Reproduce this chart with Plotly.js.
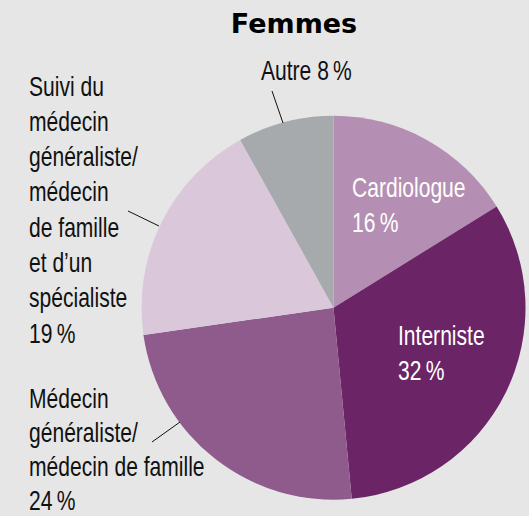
<!DOCTYPE html>
<html>
<head>
<meta charset="utf-8">
<script src="https://cdn.plot.ly/plotly-3.0.1.min.js"></script>
<style>
  html, body { margin: 0; padding: 0; background: #e6e6e6; }
  #chart { width: 529px; height: 516px; }
</style>
</head>
<body>
<div id="chart"></div>
<script>
// ---- Data ----
const title = 'Femmes';
const categories = [
  'Cardiologue',
  'Interniste',
  'Médecin généraliste/médecin de famille',
  'Suivi du médecin généraliste/médecin de famille et d’un spécialiste',
  'Autre'
];
const values = [16, 32, 24, 19, 8];
const labelWrapped = [
  ['Cardiologue'],
  ['Interniste'],
  ['Médecin', 'généraliste/', 'médecin de famille'],
  ['Suivi du', 'médecin', 'généraliste/', 'médecin', 'de famille', 'et d’un', 'spécialiste'],
  ['Autre']
];

// ---- Styles / layout ----
const W = 529, H = 516;
const colors = ['#b48fb3', '#6b2466', '#8f5a8c', '#dac8da', '#a7aaad'];
const labelFont = 'Liberation Sans, Arial, sans-serif';
const FS = 27;
const NARROW = 0.78;
// label placement: left x, first baseline y, line spacing, colour, inline value
const labelPos = [
  {x: 350, b: 197, sp: 35, c: '#ffffff', inline: false},
  {x: 396, b: 345, sp: 35, c: '#ffffff', inline: false},
  {x: 27,  b: 408, sp: 34.3, c: '#111111', inline: false},
  {x: 27,  b: 96,  sp: 35.3, c: '#111111', inline: false},
  {x: 259, b: 80,  sp: 35, c: '#111111', inline: true}
];
const leaders = [
  null, null,
  [152, 442, 180, 422],
  [128, 211, 159, 226],
  [272, 91, 283, 123]
];

const px = v => v / W;
const py = v => 1 - v / H;

const annotations = [];
categories.forEach((cat, i) => {
  const p = labelPos[i];
  let lines = labelWrapped[i].slice();
  const pct = values[i] + '\u2009%';
  if (p.inline) lines[lines.length - 1] += ' ' + pct; else lines.push(pct);
  lines.forEach((ln, k) => {
    annotations.push({
      text: ln, xref: 'paper', yref: 'paper',
      x: px(p.x), y: py(p.b + k * p.sp - 0.35 * FS),
      xanchor: 'left', yanchor: 'middle', showarrow: false,
      font: {family: labelFont, size: FS, color: p.c}
    });
  });
});

const shapes = leaders.filter(l => l).map(l => ({
  type: 'line', xref: 'paper', yref: 'paper',
  x0: px(l[0]), y0: py(l[1]), x1: px(l[2]), y1: py(l[3]),
  line: {color: '#111111', width: 1}
}));

const cx = 333.5, cy = 307.7, r = 192;
const trace = {
  type: 'pie',
  labels: categories,
  values: values,
  sort: false,
  direction: 'clockwise',
  rotation: 0,
  textinfo: 'none',
  hoverinfo: 'none',
  marker: {colors: colors, line: {width: 0}},
  domain: {x: [px(cx - r), px(cx + r)], y: [py(cy + r), py(cy - r)]},
  showlegend: false
};

const layout = {
  width: W, height: H,
  margin: {l: 0, r: 0, t: 0, b: 0},
  paper_bgcolor: '#e6e6e6',
  plot_bgcolor: '#e6e6e6',
  showlegend: false,
  title: {
    text: '<b>' + title + '</b>',
    x: px(294), xanchor: 'center',
    y: py(24), yref: 'container', yanchor: 'middle',
    font: {family: 'DejaVu Sans, sans-serif', size: 27, color: '#000000'}
  },
  annotations: annotations,
  shapes: shapes,
  hovermode: false
};

Plotly.newPlot('chart', [trace], layout, {displayModeBar: false, staticPlot: true}).then(gd => {
  // condense label text horizontally (the original uses a condensed typeface)
  gd.querySelectorAll('g.annotation text.annotation-text').forEach(t => {
    const bb = t.getBBox();
    const x0 = bb.x;
    t.setAttribute('transform', `translate(${x0},0) scale(${NARROW},1) translate(${-x0},0)`);
  });
});
</script>
</body>
</html>
